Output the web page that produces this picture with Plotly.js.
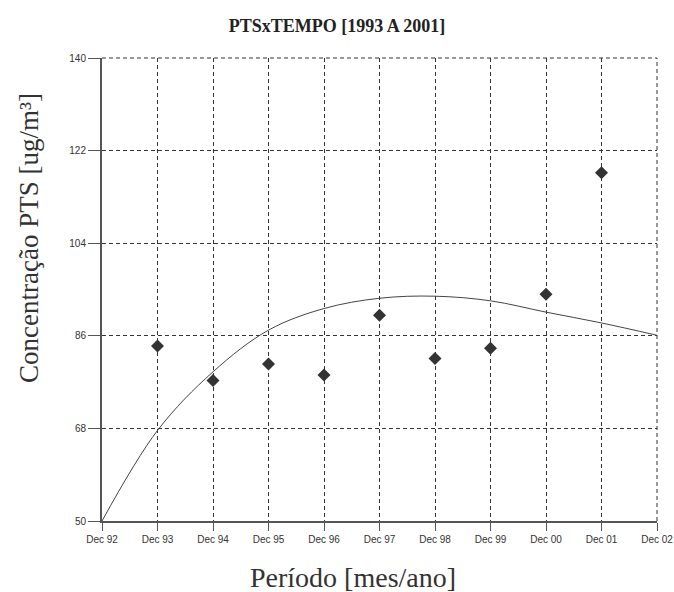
<!DOCTYPE html>
<html><head><meta charset="utf-8">
<script src="https://cdn.plot.ly/plotly-3.0.1.min.js"></script>
<style>body{margin:0;background:#fff}#chart{width:674px;height:592px}</style>
</head><body><div id="chart"></div>
<script>
const tickLabels = ["Dec 92","Dec 93","Dec 94","Dec 95","Dec 96","Dec 97","Dec 98","Dec 99","Dec 00","Dec 01","Dec 02"];
const tickPos = [0,1,2,3,4,5,6,7,8,9,10];
const obsX = [1,2,3,4,5,6,7,8,9];
const obsY = [84.0,77.3,80.5,78.4,90.0,81.6,83.6,94.1,117.7];
const fitX = [0,1,2,3,4,5,6,7,8,9,10];
const fitY = [50,67.6,79.0,87.1,91.3,93.3,93.7,92.8,90.6,88.5,86.1];
const yTicks = [50,68,86,104,122,140];

const gridDash = '4px,3px';
const traces = [
 {x: fitX, y: fitY, mode:'lines', line:{color:'#444', width:1, shape:'spline'}, hoverinfo:'skip'},
 {x: obsX, y: obsY, mode:'markers', marker:{symbol:'diamond', size:10, color:'#333'}}
];
const layout = {
 width:674, height:592, showlegend:false,
 paper_bgcolor:'#fff', plot_bgcolor:'#fff',
 margin:{l:102, r:17, t:58, b:71},
 title:{text:'<b>PTSxTEMPO [1993 A 2001]</b>', x:0.5, xanchor:'center', y:1-26/592, yanchor:'middle',
   font:{family:'Liberation Serif', size:18, color:'#222'}},
 xaxis:{range:[0,10], tickvals:tickPos, ticktext:tickLabels, showline:true, linecolor:'#555', linewidth:2,
   ticks:'outside', ticklen:8, tickcolor:'#555', tickwidth:1, showgrid:true, gridcolor:'#333', griddash:gridDash, gridwidth:1,
   zeroline:false, tickfont:{family:'Liberation Sans', size:10, color:'#333'}},
 yaxis:{range:[50,140], tickvals:yTicks, showline:true, linecolor:'#555', linewidth:2,
   ticks:'outside', ticklen:12, tickcolor:'#555', tickwidth:1, showgrid:true, gridcolor:'#333', griddash:gridDash, gridwidth:1,
   zeroline:false, tickfont:{family:'Liberation Sans', size:10, color:'#333'}},
 shapes:[
  {type:'line', xref:'paper', yref:'paper', x0:0, x1:1, y0:1, y1:1, line:{color:'#333', width:1, dash:gridDash}},
  {type:'line', xref:'paper', yref:'paper', x0:1, x1:1, y0:0, y1:1, line:{color:'#333', width:1, dash:gridDash}}
 ],
 annotations:[
  {text:'Concentração PTS [ug/m³]', xref:'paper', yref:'paper', x:(29-102)/555, y:(521-238)/463,
   xanchor:'center', yanchor:'middle', textangle:-90, showarrow:false,
   font:{family:'Liberation Serif', size:27, color:'#333'}},
  {text:'Período [mes/ano]', xref:'paper', yref:'paper', x:(352.5-102)/555, y:(521-577)/463,
   xanchor:'center', yanchor:'middle', showarrow:false,
   font:{family:'Liberation Serif', size:28, color:'#333'}}
 ]
};
Plotly.newPlot('chart', traces, layout, {staticPlot:true});
</script></body></html>
